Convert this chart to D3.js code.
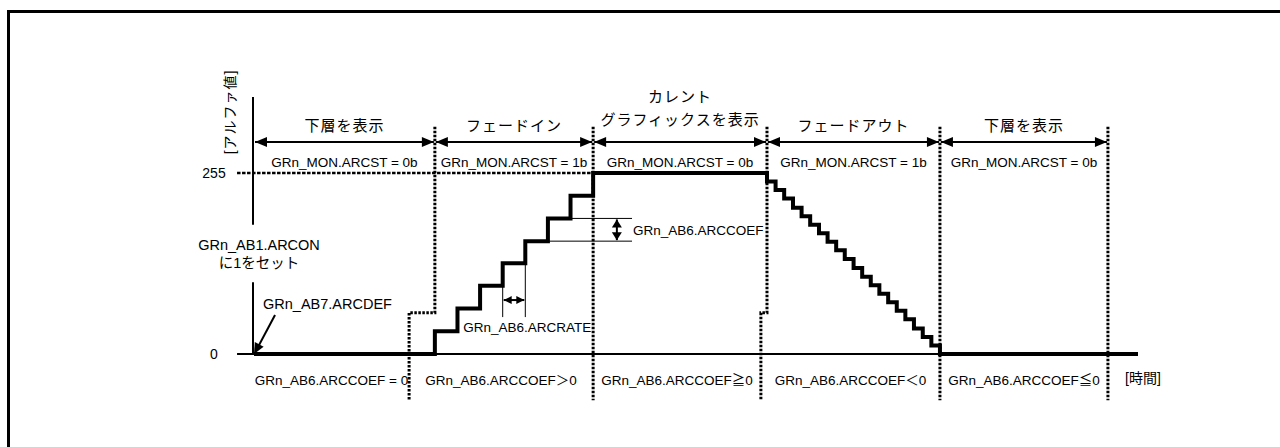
<!DOCTYPE html>
<html>
<head>
<meta charset="utf-8">
<title>アルファブレンド タイミング</title>
<script src="https://cdn.jsdelivr.net/npm/d3@7"></script>
<style>
  body { margin: 0; background: #fff; }
  svg text { font-family: "Liberation Sans", Arial, "Noto Sans CJK JP", sans-serif; fill: #000; }
  svg text.jp { font-family: "Noto Sans CJK JP", sans-serif; letter-spacing: 1px; }
</style>
</head>
<body>
<div id="chart"></div>
<script>
// --- data (time unit = one ARCRATE period) ---
var phaseNames = [["下層を表示"], ["フェードイン"], ["カレント", "グラフィックスを表示"], ["フェードアウト"], ["下層を表示"]];
var phaseTop = [0, 8, 15, 22.69, 30.34, 37.77];     // boundaries, upper part
var phaseLow = [0, 6.86, 15, 22.42, 30.34, 37.77];  // boundaries, lower part
var arcstLabels = ["GRn_MON.ARCST = 0b", "GRn_MON.ARCST = 1b", "GRn_MON.ARCST = 0b", "GRn_MON.ARCST = 1b", "GRn_MON.ARCST = 0b"];
var coefLabels = ["GRn_AB6.ARCCOEF = 0", "GRn_AB6.ARCCOEF＞0", "GRn_AB6.ARCCOEF≧0", "GRn_AB6.ARCCOEF＜0", "GRn_AB6.ARCCOEF≦0"];
var yTicks = [0, 255];

// fade-in staircase
var fadeInT = [8, 9, 10, 11, 12, 13, 14, 15];
var fadeInV = [32, 64, 96, 128, 159, 191, 223, 255];
// fade-out staircase
var fadeOutT = [22.69, 23.07, 23.45, 23.84, 24.22, 24.60, 24.99, 25.37, 25.75, 26.13, 26.52,
                26.90, 27.28, 27.66, 28.05, 28.43, 28.81, 29.19, 29.58, 29.96, 30.34];
var fadeOutV = [243, 231, 219, 206, 194, 182, 170, 158, 146, 134, 121,
                109, 97, 85, 73, 61, 49, 36, 24, 12, 0];
var tEnd = 39.1;

var width = 1280, height = 447;

var svg = d3.select("#chart").append("svg")
  .attr("width", width)
  .attr("height", height);

var x = d3.scaleLinear().domain([0, tEnd]).range([254, 1138]);
var y = d3.scaleLinear().domain([0, 255]).range([354, 173]);

// frame (top and left edges only visible)
svg.append("rect")
  .attr("x", 8.5).attr("y", 11.5)
  .attr("width", 1400).attr("height", 600)
  .attr("fill", "none").attr("stroke", "#000").attr("stroke-width", 3);

// arrowhead helper
function head(g, tipX, tipY, ang, len, half) {
  var c = Math.cos(ang), s = Math.sin(ang);
  var bx = tipX - c * len, by = tipY - s * len;
  g.append("path")
    .attr("d", "M" + tipX + "," + tipY +
      "L" + (bx - s * half) + "," + (by + c * half) +
      "L" + (bx + s * half) + "," + (by - c * half) + "Z")
    .attr("fill", "#000");
}

function dblArrow(g, x1, y1, x2, y2, len, half, sw) {
  var ang = Math.atan2(y2 - y1, x2 - x1);
  g.append("line")
    .attr("x1", x1).attr("y1", y1).attr("x2", x2).attr("y2", y2)
    .attr("stroke", "#000").attr("stroke-width", sw);
  head(g, x2, y2, ang, len, half);
  head(g, x1, y1, ang + Math.PI, len, half);
}

// y axis (broken behind the ARCON label)
var ax = svg.append("g");
ax.append("line")
  .attr("x1", x(0) - 1).attr("x2", x(0) - 1)
  .attr("y1", y(362)).attr("y2", y(182))
  .attr("stroke", "#000").attr("stroke-width", 2);
ax.append("line")
  .attr("x1", x(0) - 1).attr("x2", x(0) - 1)
  .attr("y1", y(101)).attr("y2", y(0))
  .attr("stroke", "#000").attr("stroke-width", 2);

// time axis
ax.append("line")
  .attr("x1", x(-0.75)).attr("x2", x(tEnd))
  .attr("y1", y(0)).attr("y2", y(0))
  .attr("stroke", "#000").attr("stroke-width", 2);

// tick labels
ax.selectAll("text.tick")
  .data(yTicks)
  .enter().append("text")
  .attr("class", "tick")
  .attr("x", 214)
  .attr("y", function(d) { return y(d) + 5; })
  .attr("text-anchor", "middle")
  .style("font-size", "14px")
  .text(function(d) { return d; });

// 255 dashed reference
svg.append("line")
  .attr("x1", x(-0.75)).attr("x2", x(15))
  .attr("y1", y(255)).attr("y2", y(255))
  .attr("stroke", "#000").attr("stroke-width", 2.5)
  .attr("stroke-dasharray", "3.5,1.5");

// axis titles
svg.append("text")
  .attr("transform", "translate(" + 235 + "," + 112 + ") rotate(-90)")
  .attr("text-anchor", "middle")
  .style("font-size", "14px")
  .style("letter-spacing", "1px")
  .text("[アルファ値]");
svg.append("text")
  .attr("x", 1125).attr("y", 383)
  .style("font-size", "14px")
  .text("[時間]");

// dotted phase boundaries
var jogV = 58, topV = 320, botV = -65;
var bounds = svg.append("g");
d3.range(1, phaseTop.length).forEach(function(i) {
  var p = d3.path();
  p.moveTo(x(phaseTop[i]), y(topV));
  p.lineTo(x(phaseTop[i]), y(jogV));
  p.lineTo(x(phaseLow[i]), y(jogV));
  p.lineTo(x(phaseLow[i]), y(botV));
  bounds.append("path")
    .attr("d", p.toString())
    .attr("fill", "none")
    .attr("stroke", "#000").attr("stroke-width", 3)
    .attr("stroke-dasharray", "2.5,1.5");
});

// phase arrows, titles and ARCST labels
var arrowV = 298.7;
var ph = svg.append("g");
phaseNames.forEach(function(names, i) {
  var x1 = x(phaseTop[i]), x2 = x(phaseTop[i + 1]);
  var mid = (x1 + x2) / 2;
  dblArrow(ph, x1 + 1, y(arrowV), x2 - 1, y(arrowV), 12, 5, 2);
  names.forEach(function(n, k) {
    ph.append("text")
      .attr("class", "jp")
      .attr("x", mid)
      .attr("y", y(arrowV) - 11 - (names.length - 1 - k) * 23 - (names.length > 1 ? 6 : 0))
      .attr("text-anchor", "middle")
      .style("font-size", "15px")
      .text(n);
  });
  ph.append("text")
    .attr("x", mid)
    .attr("y", y(arrowV) + 25)
    .attr("text-anchor", "middle")
    .style("font-size", "13.5px")
    .text(arcstLabels[i]);
  var lx = (x(phaseLow[i]) + x(phaseLow[i + 1])) / 2;
  ph.append("text")
    .attr("x", lx)
    .attr("y", y(0) + 31)
    .attr("text-anchor", "middle")
    .style("font-size", "13.5px")
    .text(coefLabels[i]);
});

// alpha signal
var pts = [[0, 0]];
fadeInT.forEach(function(t, i) { pts.push([t, fadeInV[i]]); });
fadeOutT.forEach(function(t, i) { pts.push([t, fadeOutV[i]]); });
pts.push([tEnd, 0]);

var line = d3.line()
  .x(function(d) { return x(d[0]); })
  .y(function(d) { return y(d[1]); })
  .curve(d3.curveStepAfter);

svg.append("path")
  .datum(pts)
  .attr("d", line)
  .attr("fill", "none")
  .attr("stroke", "#000")
  .attr("stroke-width", 4)
  .attr("stroke-linejoin", "miter");

// annotations
var an = svg.append("g");
// ARCRATE
[fadeInT[3], fadeInT[4]].forEach(function(t, k) {
  an.append("line")
    .attr("x1", x(t)).attr("x2", x(t))
    .attr("y1", y(fadeInV[2 + k])).attr("y2", y(52))
    .attr("stroke", "#000").attr("stroke-width", 1);
});
dblArrow(an, x(fadeInT[3]) + 1, y(76), x(fadeInT[4]) - 1, y(76), 8, 4, 2);
an.append("text")
  .attr("x", x(fadeInT[4]) + 2)
  .attr("y", y(52) + 15)
  .attr("text-anchor", "middle")
  .style("font-size", "13.5px")
  .text("GRn_AB6.ARCRATE");

// ARCCOEF
an.append("line")
  .attr("x1", x(fadeInT[5])).attr("x2", x(16.72))
  .attr("y1", y(fadeInV[5])).attr("y2", y(fadeInV[5]))
  .attr("stroke", "#000").attr("stroke-width", 1);
an.append("line")
  .attr("x1", x(fadeInT[4])).attr("x2", x(16.72))
  .attr("y1", y(fadeInV[4])).attr("y2", y(fadeInV[4]))
  .attr("stroke", "#000").attr("stroke-width", 1);
dblArrow(an, x(16.05), y(fadeInV[5]) + 1, x(16.05), y(fadeInV[4]) - 1, 8, 5, 2);
an.append("text")
  .attr("x", x(16.72) + 1)
  .attr("y", (y(fadeInV[5]) + y(fadeInV[4])) / 2 + 5)
  .style("font-size", "13.5px")
  .text("GRn_AB6.ARCCOEF");

// ARCON / ARCDEF
an.append("text")
  .attr("x", 259).attr("y", 250)
  .attr("text-anchor", "middle")
  .style("font-size", "14.5px")
  .text("GRn_AB1.ARCON");
an.append("text")
  .attr("x", 259).attr("y", 268)
  .attr("text-anchor", "middle")
  .style("font-size", "14.5px")
  .text("に1をセット");
an.append("text")
  .attr("x", 263).attr("y", 309)
  .style("font-size", "14.5px")
  .text("GRn_AB7.ARCDEF");

var ax1 = x(0.93), ay1 = y(55), ax2 = x(0), ay2 = y(0);
an.append("line")
  .attr("x1", ax1).attr("y1", ay1).attr("x2", ax2 + 4).attr("y2", ay2 - 7)
  .attr("stroke", "#000").attr("stroke-width", 2);
head(an, ax2, ay2, Math.atan2(ay2 - ay1, ax2 - ax1), 11, 5);
</script>
</body>
</html>
